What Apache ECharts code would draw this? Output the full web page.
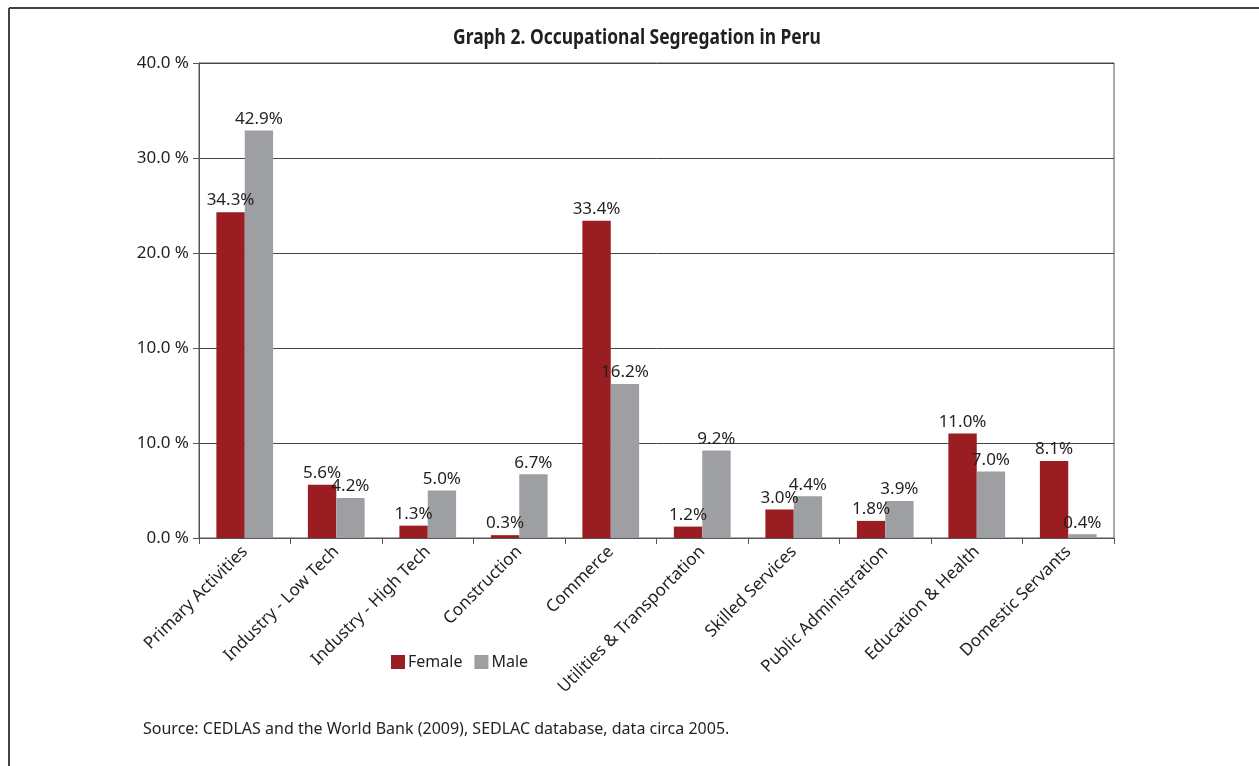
<!DOCTYPE html>
<html>
<head>
<meta charset="utf-8">
<script src="https://cdn.jsdelivr.net/npm/echarts@6/dist/echarts.min.js"></script>
<style>
  html, body { margin: 0; padding: 0; background: #fff; }
  #chart { width: 1259px; height: 766px; }
</style>
</head>
<body>
<div id="chart"></div>
<script>
// Occupational segregation in Peru: share of employment by sector and sex
const categories = [
  'Primary Activities', 'Industry - Low Tech', 'Industry - High Tech', 'Construction',
  'Commerce', 'Utilities & Transportation', 'Skilled Services', 'Public Administration',
  'Education & Health', 'Domestic Servants'
];
const femaleValues = [34.3, 5.6, 1.3, 0.3, 33.4, 1.2, 3.0, 1.8, 11.0, 8.1];
const maleValues   = [42.9, 4.2, 5.0, 6.7, 16.2, 9.2, 4.4, 3.9, 7.0, 0.4];
// Value-axis tick labels, one per gridline from the bottom up
const yTickLabels = ['0.0 %', '10.0 %', '10.0 %', '20.0 %', '30.0 %', '40.0 %'];

const FONT = '"Noto Sans", sans-serif';
const TEXT = '#231f20';
const FEMALE = '#9a1d21';
const MALE = '#9d9fa2';

const chart = echarts.init(document.getElementById('chart'), null, { renderer: 'canvas' });

const labelStyle = {
  show: true,
  position: 'top',
  distance: 3,
  fontFamily: FONT,
  fontSize: 17,
  color: TEXT,
  formatter: p => p.value.toFixed(1) + '%'
};

chart.setOption({
  animation: false,
  backgroundColor: '#fff',
  graphic: [
    // outer frame (top and left edges)
    { type: 'line', shape: { x1: 9, y1: 8, x2: 1259, y2: 8 }, style: { stroke: '#444', lineWidth: 2 } },
    { type: 'line', shape: { x1: 9, y1: 8, x2: 9, y2: 766 }, style: { stroke: '#444', lineWidth: 2 } },
    // condensed bold heading
    {
      type: 'text', x: 637, y: 38, scaleX: 0.83, scaleY: 1,
      style: {
        text: 'Graph 2. Occupational Segregation in Peru',
        font: 'bold 21px "Noto Sans", sans-serif',
        fill: TEXT, align: 'center', verticalAlign: 'middle'
      }
    },
    {
      type: 'text', x: 143, y: 729,
      style: {
        text: 'Source: CEDLAS and the World Bank (2009), SEDLAC database, data circa 2005.',
        font: '16px "Noto Sans", sans-serif', fill: TEXT, verticalAlign: 'middle'
      }
    }
  ],
  legend: {
    data: ['Female', 'Male'],
    left: 386,
    top: 649,
    itemWidth: 14,
    itemHeight: 14,
    itemGap: 12,
    icon: 'rect',
    textStyle: { fontFamily: FONT, fontSize: 16, color: TEXT, padding: [0, 0, 0, -2] }
  },
  grid: {
    left: 199, right: 145, top: 63, bottom: 228,
    show: true, borderColor: '#555', borderWidth: 1,
    containLabel: false
  },
  xAxis: {
    type: 'category',
    data: categories,
    axisLine: { lineStyle: { color: '#555', width: 1 } },
    axisTick: { show: true, length: 6, lineStyle: { color: '#555' } },
    axisLabel: {
      rotate: 45, interval: 0, margin: 11,
      fontFamily: FONT, fontSize: 17, color: TEXT
    }
  },
  yAxis: {
    type: 'value',
    min: 0, max: 50, interval: 10,
    axisLine: { show: true, lineStyle: { color: '#555', width: 1 } },
    axisTick: { show: true, length: 6, lineStyle: { color: '#555' } },
    splitLine: { show: true, lineStyle: { color: '#444', width: 1 } },
    axisLabel: {
      margin: 10,
      fontFamily: FONT, fontSize: 17, color: TEXT,
      formatter: v => yTickLabels[Math.round(v / 10)]
    }
  },
  series: [
    {
      name: 'Female', type: 'bar', data: femaleValues,
      itemStyle: { color: FEMALE },
      barGap: '0%', barCategoryGap: '38%',
      label: labelStyle
    },
    {
      name: 'Male', type: 'bar', data: maleValues,
      itemStyle: { color: MALE },
      barGap: '0%', barCategoryGap: '38%',
      label: labelStyle
    }
  ]
});
</script>
</body>
</html>
